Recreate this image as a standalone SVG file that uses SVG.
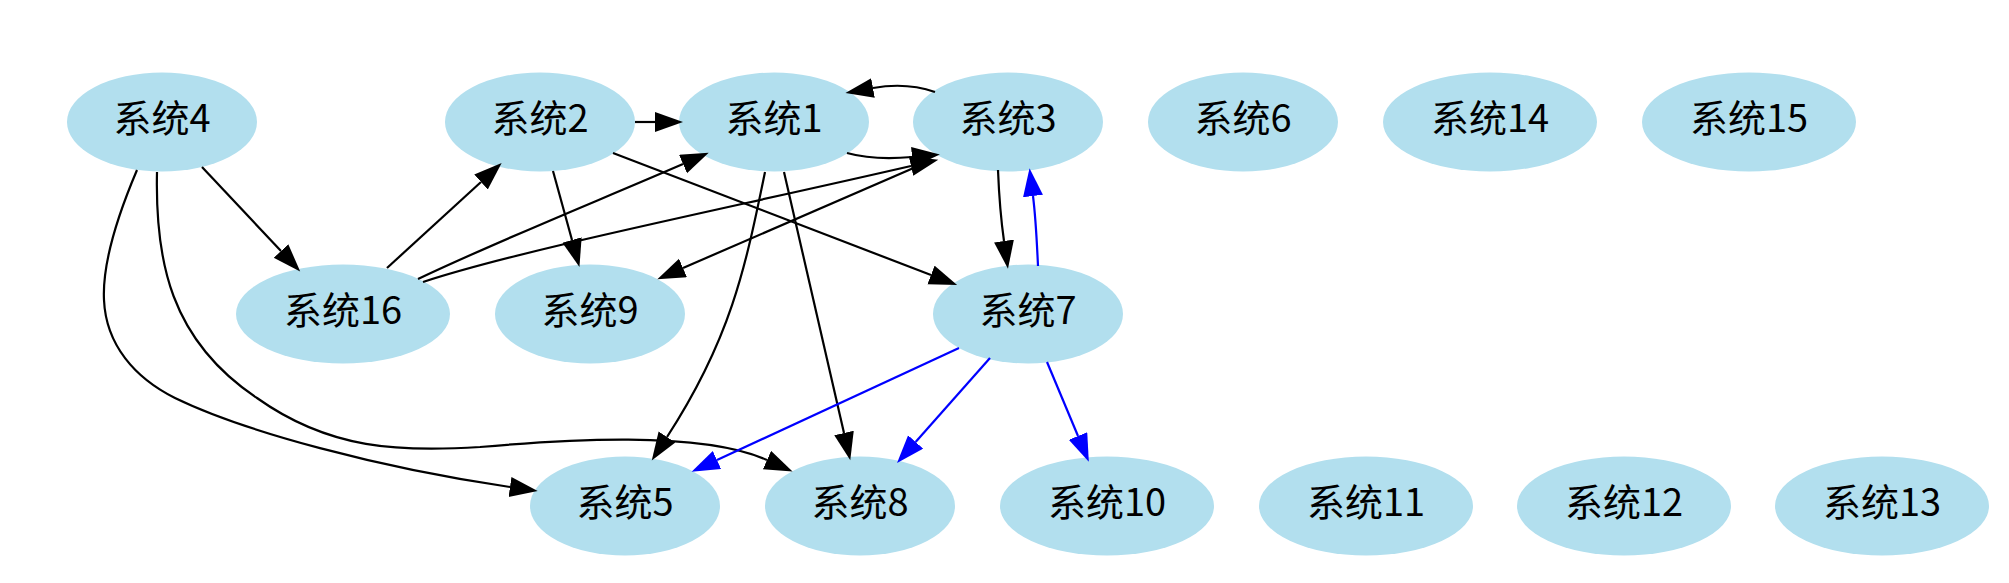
<svg xmlns="http://www.w3.org/2000/svg" width="2009" height="583" viewBox="0 0 2009 583">
<style>
.node ellipse{fill:#b2dfee;stroke:none}
.node text{font-family:"Noto Sans CJK SC","Noto Sans",sans-serif;font-size:38px;fill:#000;text-anchor:middle}
.e{fill:none;stroke:#000;stroke-width:2.2}
.b{fill:none;stroke:#0000ff;stroke-width:2.2}
</style>
<defs>
<marker id="ak" markerUnits="userSpaceOnUse" markerWidth="30" markerHeight="22" refX="0" refY="10" orient="auto"><path d="M0,0 L28,10 L0,20 z" fill="#000"/></marker>
<marker id="ab" markerUnits="userSpaceOnUse" markerWidth="30" markerHeight="22" refX="0" refY="10" orient="auto"><path d="M0,0 L28,10 L0,20 z" fill="#0000ff"/></marker>
</defs>
<rect width="2009" height="583" fill="#fff"/>
<g id="nodes">
<g id="n4" class="node"><ellipse cx="162" cy="122" rx="95" ry="49.5"/><text x="162" y="132">系统4</text></g>
<g id="n2" class="node"><ellipse cx="540" cy="122" rx="95" ry="49.5"/><text x="540" y="132">系统2</text></g>
<g id="n1" class="node"><ellipse cx="774" cy="122" rx="95" ry="49.5"/><text x="774" y="132">系统1</text></g>
<g id="n3" class="node"><ellipse cx="1008" cy="122" rx="95" ry="49.5"/><text x="1008" y="132">系统3</text></g>
<g id="n6" class="node"><ellipse cx="1243" cy="122" rx="95" ry="49.5"/><text x="1243" y="132">系统6</text></g>
<g id="n14" class="node"><ellipse cx="1490" cy="122" rx="107" ry="49.5"/><text x="1490" y="132">系统14</text></g>
<g id="n15" class="node"><ellipse cx="1749" cy="122" rx="107" ry="49.5"/><text x="1749" y="132">系统15</text></g>
<g id="n16" class="node"><ellipse cx="343" cy="314" rx="107" ry="49.5"/><text x="343" y="324">系统16</text></g>
<g id="n9" class="node"><ellipse cx="590" cy="314" rx="95" ry="49.5"/><text x="590" y="324">系统9</text></g>
<g id="n7" class="node"><ellipse cx="1028" cy="314" rx="95" ry="49.5"/><text x="1028" y="324">系统7</text></g>
<g id="n5" class="node"><ellipse cx="625" cy="506" rx="95" ry="49.5"/><text x="625" y="516">系统5</text></g>
<g id="n8" class="node"><ellipse cx="860" cy="506" rx="95" ry="49.5"/><text x="860" y="516">系统8</text></g>
<g id="n10" class="node"><ellipse cx="1107" cy="506" rx="107" ry="49.5"/><text x="1107" y="516">系统10</text></g>
<g id="n11" class="node"><ellipse cx="1366" cy="506" rx="107" ry="49.5"/><text x="1366" y="516">系统11</text></g>
<g id="n12" class="node"><ellipse cx="1624" cy="506" rx="107" ry="49.5"/><text x="1624" y="516">系统12</text></g>
<g id="n13" class="node"><ellipse cx="1882" cy="506" rx="107" ry="49.5"/><text x="1882" y="516">系统13</text></g>
</g>
<g id="edges">
<path class="e" marker-end="url(#ak)" d="M635,122 L655,122"/>
<path class="e" marker-end="url(#ak)" d="M935,92 C915,85 895,84 873,88"/>
<path class="e" marker-end="url(#ak)" d="M847,153 C865,158 890,159 912,157"/>
<path class="e" marker-end="url(#ak)" d="M202,167 L281,251"/>
<path class="e" marker-end="url(#ak)" d="M387,268 L481,182"/>
<path class="e" marker-end="url(#ak)" d="M418,279 C500,240 600,200 683,164"/>
<path class="e" marker-end="url(#ak)" d="M423,282 C520,250 720,210 911,166"/>
<path class="e" marker-end="url(#ak)" d="M553,171 L572,240"/>
<path class="e" marker-end="url(#ak)" d="M932,160 L683,268"/>
<path class="e" marker-end="url(#ak)" d="M613,153 L931,275"/>
<path class="e" marker-end="url(#ak)" d="M998,170 C999,195 1001,220 1004,241"/>
<path class="b" marker-end="url(#ab)" d="M1038,266 C1037,245 1036,220 1033,196"/>
<path class="e" marker-end="url(#ak)" d="M765,172 C745,270 730,340 667,437"/>
<path class="e" marker-end="url(#ak)" d="M784,172 L844,433"/>
<path class="e" marker-end="url(#ak)" d="M137,170 C120,210 102,260 104,300 C106,345 135,378 175,398 C245,432 380,468 510,487"/>
<path class="e" marker-end="url(#ak)" d="M157,172 C155,260 170,340 257,398 C330,450 400,452 480,447 C560,440 700,430 767,460"/>
<path class="b" marker-end="url(#ab)" d="M959,348 L717,460"/>
<path class="b" marker-end="url(#ab)" d="M990,358 L915.6,442"/>
<path class="b" marker-end="url(#ab)" d="M1047,362 L1078,436"/>
</g>
</svg>
